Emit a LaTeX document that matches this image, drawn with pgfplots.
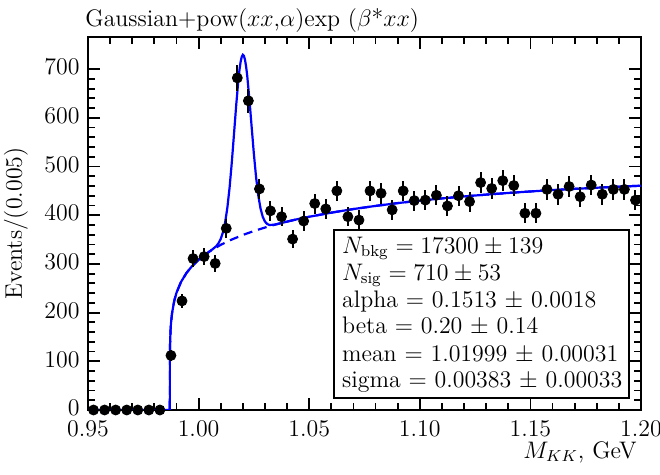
\documentclass[border=0pt]{standalone}
\usepackage{pgfplots}
\usepackage{pgfplotstable}
\pgfplotsset{compat=1.18}

% Binned K+K- invariant mass: bin centre, events, sqrt(N) error
\pgfplotstableread{
x       y     e
0.9525  0     0
0.9575  0     0
0.9625  0     0
0.9675  0     0
0.9725  0     0
0.9775  0     0
0.9825  0     0
0.9875  112   10.6
0.9925  224   15.0
0.9975  311   17.6
1.0025  315   17.7
1.0075  301   17.3
1.0125  373   19.3
1.0175  682   26.1
1.0225  635   25.2
1.0275  454   21.3
1.0325  409   20.2
1.0375  397   19.9
1.0425  351   18.7
1.0475  388   19.7
1.0525  424   20.6
1.0575  413   20.3
1.0625  450   21.2
1.0675  397   19.9
1.0725  390   19.7
1.0775  450   21.2
1.0825  445   21.1
1.0875  411   20.3
1.0925  450   21.2
1.0975  430   20.7
1.1025  431   20.8
1.1075  441   21.0
1.1125  419   20.5
1.1175  440   21.0
1.1225  428   20.7
1.1275  467   21.6
1.1325  455   21.3
1.1375  471   21.7
1.1425  461   21.5
1.1475  404   20.1
1.1525  404   20.1
1.1575  453   21.3
1.1625  443   21.0
1.1675  459   21.4
1.1725  438   20.9
1.1775  462   21.5
1.1825  443   21.0
1.1875  453   21.3
1.1925  453   21.3
1.1975  431   20.8
}\datatable

% Background component of the fit
\pgfplotstableread{
x        y
0.98700  0
0.98701  90.1
0.98703  109
0.98710  134
0.98730  162
0.98750  177
0.98800  199
0.98900  224.5
0.99000  240.7
0.99200  262.6
0.99450  281.3
0.99700  295.3
1.00000  308.6
1.00500  325.8
1.01000  339.2
1.01500  350.1
1.02000  359.4
1.02500  367.6
1.03000  374.7
1.03500  381.2
1.04000  386.9
1.04500  392.2
1.05000  396.8
1.06000  405.3
1.07000  412.7
1.08000  419.1
1.09000  424.9
1.10000  430.0
1.11000  434.5
1.12000  438.6
1.13000  442.3
1.14000  445.7
1.15000  448.8
1.16000  451.6
1.17000  454.1
1.18000  456.5
1.19000  458.6
1.20000  460.6
}\bkgtable

% Total fit: background plus Gaussian peak
\pgfplotstableread{
x        y
0.95000  0
0.98700  0
0.98701  90.1
0.98703  109
0.98710  134
0.98730  162
0.98750  177
0.98800  199
0.98900  224.5
0.99000  240.7
0.99200  262.6
0.99450  281.3
0.99700  295.3
1.00000  308.6
1.00500  325.8
1.00600  329.0
1.00800  336.5
1.00900  342.5
1.01000  351.4
1.01100  364.8
1.01200  385.4
1.01300  415.3
1.01400  456.4
1.01500  507.9
1.01600  566.4
1.01700  626.0
1.01800  678.6
1.01850  699.3
1.01900  715.1
1.01950  725.4
1.02000  729.4
1.02050  727.1
1.02100  718.6
1.02150  704.6
1.02200  685.6
1.02300  636.5
1.02400  580.4
1.02500  525.4
1.02600  477.5
1.02700  440.0
1.02800  413.7
1.02900  396.7
1.03000  386.9
1.03100  382.0
1.03200  380.0
1.03400  380.4
1.03500  381.2
1.04000  386.9
1.04500  392.2
1.05000  396.8
1.06000  405.3
1.07000  412.7
1.08000  419.1
1.09000  424.9
1.10000  430.0
1.11000  434.5
1.12000  438.6
1.13000  442.3
1.14000  445.7
1.15000  448.8
1.16000  451.6
1.17000  454.1
1.18000  456.5
1.19000  458.6
1.20000  460.6
}\fittable

\begin{document}
\begin{tikzpicture}[font=\fontsize{12}{14}\selectfont]
\begin{axis}[
  scale only axis, width=276.5bp, height=186.5bp,
  xmin=0.95, xmax=1.20, ymin=0, ymax=766,
  xtick={0.95,1.00,1.05,1.10,1.15,1.20}, minor x tick num=4,
  ytick={0,100,...,700}, minor y tick num=4,
  tick align=inside, xtick pos=both, ytick pos=both,
  xticklabel pos=lower, yticklabel pos=left,
  major tick length=6bp, minor tick length=3.5bp,
  every tick/.style={black, line width=0.9bp},
  axis line style={line width=1bp},
  xticklabel style={inner sep=1bp, yshift=-4.5bp,
    /pgf/number format/.cd, fixed, fixed zerofill, precision=2},
  yticklabel style={inner sep=1bp, xshift=-3bp, yshift=1bp,
    /pgf/number format/fixed},
]
\addplot[blue, line width=1.1bp, dash pattern=on 4.5bp off 3bp] table[x=x, y=y] {\bkgtable};
\addplot[blue, line width=1.1bp] table[x=x, y=y] {\fittable};
\addplot[only marks, mark=*, mark size=2.5bp, black,
  error bars/.cd, y dir=both, y explicit,
  error bar style={line width=1bp, black}, error mark=none]
  table[x=x, y=y, y error=e] {\datatable};

\draw[line width=0.8bp, fill=white] (axis cs:1.0612,24.6) rectangle (axis cs:1.1946,369.6);
\node[anchor=base west, inner sep=0] at (axis cs:1.0647,322.4) {$N_{\mathrm{bkg}} = 17300 \pm 139$};
\node[anchor=base west, inner sep=0] at (axis cs:1.0647,266.9) {$N_{\mathrm{sig}} = 710 \pm 53$};
\node[anchor=base west, inner sep=0] at (axis cs:1.0647,211.5) {alpha $=$ 0.1513 $\pm$ 0.0018};
\node[anchor=base west, inner sep=0] at (axis cs:1.0647,156.1) {beta $=$ 0.20 $\pm$ 0.14};
\node[anchor=base west, inner sep=0] at (axis cs:1.0647,100.6) {mean $=$ 1.01999 $\pm$ 0.00031};
\node[anchor=base west, inner sep=0] at (axis cs:1.0647,45.2) {sigma $=$ 0.00383 $\pm$ 0.00033};
\end{axis}

\node[rotate=90, anchor=center] at (-36bp,93.25bp) {Events/(0.005)};
\node[anchor=base east, inner sep=0] at (274.5bp,-24bp) {$M_{KK}$, GeV};
\node[anchor=base west, inner sep=0] at (-1.5bp,191.5bp) {Gaussian+pow($xx$,$\alpha$)exp ($\beta$*$xx$)};

\pgfresetboundingbox
\path[use as bounding box] (-44bp,-32.5bp) rectangle (286bp,205bp);
\end{tikzpicture}
\end{document}
